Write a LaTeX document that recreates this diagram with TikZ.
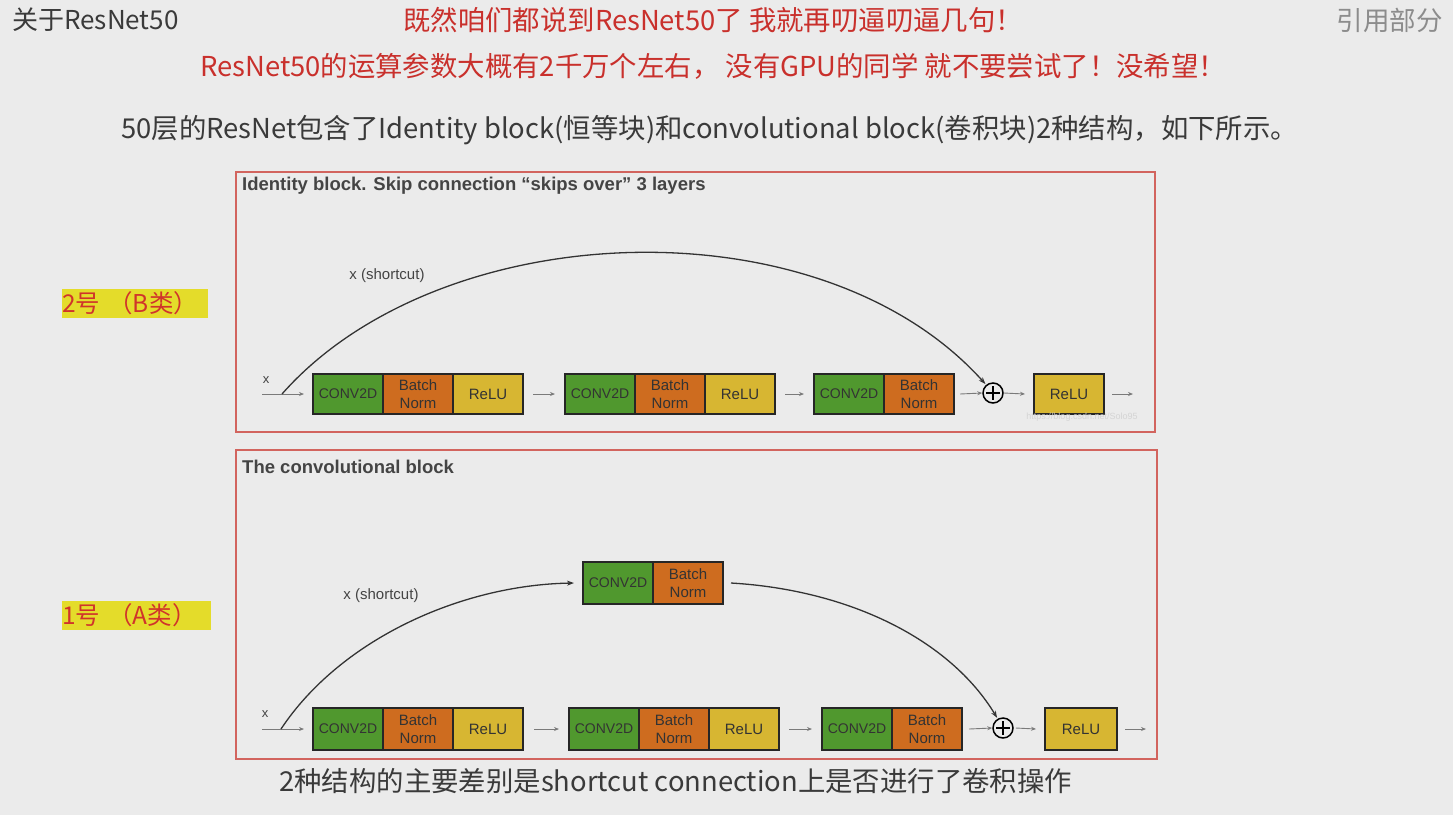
\documentclass[tikz,border=0pt]{standalone}
\usepackage{fontspec}
\setmainfont{Liberation Sans}
\newfontfamily\cjk{Noto Sans CJK SC}
\usetikzlibrary{arrows.meta}
\definecolor{bg}{HTML}{EBEBEB}
\definecolor{convgreen}{HTML}{50982E}
\definecolor{bnorange}{HTML}{CE6C1F}
\definecolor{reluyellow}{HTML}{D7B632}
\definecolor{framered}{HTML}{D2645E}
\definecolor{titlered}{HTML}{C9302C}
\definecolor{hlyellow}{HTML}{E4DC2A}
\definecolor{labred}{HTML}{D0342A}
\definecolor{txtdark}{HTML}{3A3A3A}
\definecolor{txtgray}{HTML}{444444}
\definecolor{flowgray}{HTML}{7A7A7A}
\begin{document}
\begin{tikzpicture}[x=1pt,y=-1pt,
  blk/.style={draw=black!85, line width=1.8pt, minimum height=40pt, minimum width=70pt,
    inner sep=0pt, outer sep=0pt, font=\fontsize{15}{18}\selectfont, text=black!80,
    align=center, anchor=west},
  tall/.style={minimum height=42pt},
  cv/.style={blk, fill=convgreen, font=\fontsize{14}{17}\selectfont},
  bnorm/.style={blk, fill=bnorange},
  rl/.style={blk, fill=reluyellow},
  flow/.style={draw=flowgray, line width=0.9pt, -{Stealth[length=5pt,width=4pt]}},
  skip/.style={draw=black!80, line width=1.3pt, -{Stealth[length=7pt,width=5pt]}},
  frame/.style={draw=framered, line width=1.2pt},
  plusn/.style={circle, draw=black, line width=1.5pt, minimum size=20pt, inner sep=0pt,
    path picture={\draw[line width=1.3pt]
      ([yshift=7pt]path picture bounding box.center) -- ([yshift=-7pt]path picture bounding box.center)
      ([xshift=-7pt]path picture bounding box.center) -- ([xshift=7pt]path picture bounding box.center);}},
  small/.style={font=\fontsize{15}{18}\selectfont, text=txtgray, inner sep=0pt},
  btitle/.style={font=\bfseries\fontsize{18.5}{22}\selectfont, text=txtgray, anchor=west, inner sep=0pt},
  head/.style={font=\cjk\fontsize{27.4}{32}\selectfont, inner sep=0pt},
  hl/.style={fill=hlyellow, anchor=west, minimum height=29pt, inner sep=0pt, align=left,
    font=\cjk\fontsize{24.5}{29}\selectfont, text=labred}
]
\fill[bg] (0,0) rectangle (1453,815);
\useasboundingbox (0,0) rectangle (1453,815);

% ---- header texts
\node[head, anchor=west, text=txtdark, font=\cjk\fontsize{26}{30}\selectfont] (h1) at (12,20) {关于ResNet50};
\node[head, anchor=west, text=titlered] (r1) at (403,20) {既然咱们都说到ResNet50了 我就再叨逼叨逼几句！};
\node[head, anchor=west, text=titlered] (r2) at (200,66) {ResNet50的运算参数大概有2千万个左右， 没有GPU的同学 就不要尝试了！没希望！};
\node[head, anchor=east, text=black!45, font=\cjk\fontsize{26.5}{30}\selectfont] (ref) at (1443,20) {引用部分};
\node[head, anchor=west, text=txtdark] (sub) at (121,130) {50层的ResNet包含了Identity block(恒等块)和convolutional block(卷积块)2种结构，如下所示。};
\node[head, anchor=west, text=txtdark] (bot) at (279,781) {2种结构的主要差别是shortcut connection上是否进行了卷积操作};

% ---- left labels
\node[hl, text width=146pt] (lb) at (62,303) {2号 （B类）};
\node[hl, text width=149pt] (la) at (62,615) {1号 （A类）};

% ---- frames
\draw[frame] (236,172) rectangle (1155,432);
\draw[frame] (236,450) rectangle (1157,759);
\node[btitle] (t1) at (242,186) {Identity block. Skip connection “skips over” 3 layers};
\node[btitle] (t2) at (242,467) {The convolutional block};

% ---- identity block
\node[cv] (ic1) at (313,394) {CONV2D};
\node[bnorm] (ib1) at (ic1.east) {Batch\\Norm};
\node[rl] (ir1) at (ib1.east) {ReLU};
\node[cv] (ic2) at (565,394) {CONV2D};
\node[bnorm] (ib2) at (ic2.east) {Batch\\Norm};
\node[rl] (ir2) at (ib2.east) {ReLU};
\node[cv] (ic3) at (814,394) {CONV2D};
\node[bnorm] (ib3) at (ic3.east) {Batch\\Norm};
\node[plusn] (ip) at (993,393) {};
\node[rl] (iro) at (1034,394) {ReLU};
\coordinate (ixs) at (262,394);
\coordinate (ixb) at (282,394);
\coordinate (ioe) at (1133,394);
\node[small, font=\fontsize{13}{15}\selectfont] (ix) at (266,380) {x};
\node[small] (il) at (387,276) {x (shortcut)};
\draw[flow] (ixs) -- ([xshift=-9pt]ic1.west);
\draw[flow] ([xshift=10pt]ir1.east) -- ([xshift=-10pt]ic2.west);
\draw[flow] ([xshift=10pt]ir2.east) -- ([xshift=-10pt]ic3.west);
\draw[flow] ([xshift=6pt]ib3.east) -- (ip.west);
\draw[flow] (ip.east) -- ([xshift=-9pt]iro.west);
\draw[flow] ([xshift=8pt]iro.east) -- (ioe);
\draw[skip, shorten >=1pt] (ixb) .. controls (440,215) and (820,200) .. (ip.130);
\node[font=\fontsize{9}{11}\selectfont, text=black!17, inner sep=0pt] (wm) at (1082,417) {https://blog.csdn.net/Solo95};

% ---- convolutional block
\node[cv, tall] (cc1) at (313,729) {CONV2D};
\node[bnorm, tall] (cb1) at (cc1.east) {Batch\\Norm};
\node[rl, tall] (cr1) at (cb1.east) {ReLU};
\node[cv, tall] (cc2) at (569,729) {CONV2D};
\node[bnorm, tall] (cb2) at (cc2.east) {Batch\\Norm};
\node[rl, tall] (cr2) at (cb2.east) {ReLU};
\node[cv, tall] (cc3) at (822,729) {CONV2D};
\node[bnorm, tall] (cb3) at (cc3.east) {Batch\\Norm};
\node[plusn] (cp) at (1003,728) {};
\node[rl, tall, minimum width=72pt] (cro) at (1045,729) {ReLU};
\node[cv, tall] (sc) at (583,583) {CONV2D};
\node[bnorm, tall] (sb) at (sc.east) {Batch\\Norm};
\coordinate (cxs) at (262,729);
\coordinate (cxb) at (281,729);
\coordinate (coe) at (1146,729);
\node[small, font=\fontsize{13}{15}\selectfont] (cx) at (265,714) {x};
\node[small] (cl) at (381,596) {x (shortcut)};
\draw[flow] (cxs) -- ([xshift=-9pt]cc1.west);
\draw[flow] ([xshift=11pt]cr1.east) -- ([xshift=-10pt]cc2.west);
\draw[flow] ([xshift=10pt]cr2.east) -- ([xshift=-10pt]cc3.west);
\draw[flow] ([xshift=7pt]cb3.east) -- (cp.west);
\draw[flow] ([xshift=2pt]cp.east) -- ([xshift=-9pt]cro.west);
\draw[flow] ([xshift=8pt]cro.east) -- (coe);
\draw[skip] (cxb) .. controls (340,640) and (460,585) .. ([xshift=-9pt]sc.west);
\draw[skip, shorten >=1pt] ([xshift=8pt]sb.east) .. controls (850,590) and (950,640) .. (cp.120);
\end{tikzpicture}
\end{document}
